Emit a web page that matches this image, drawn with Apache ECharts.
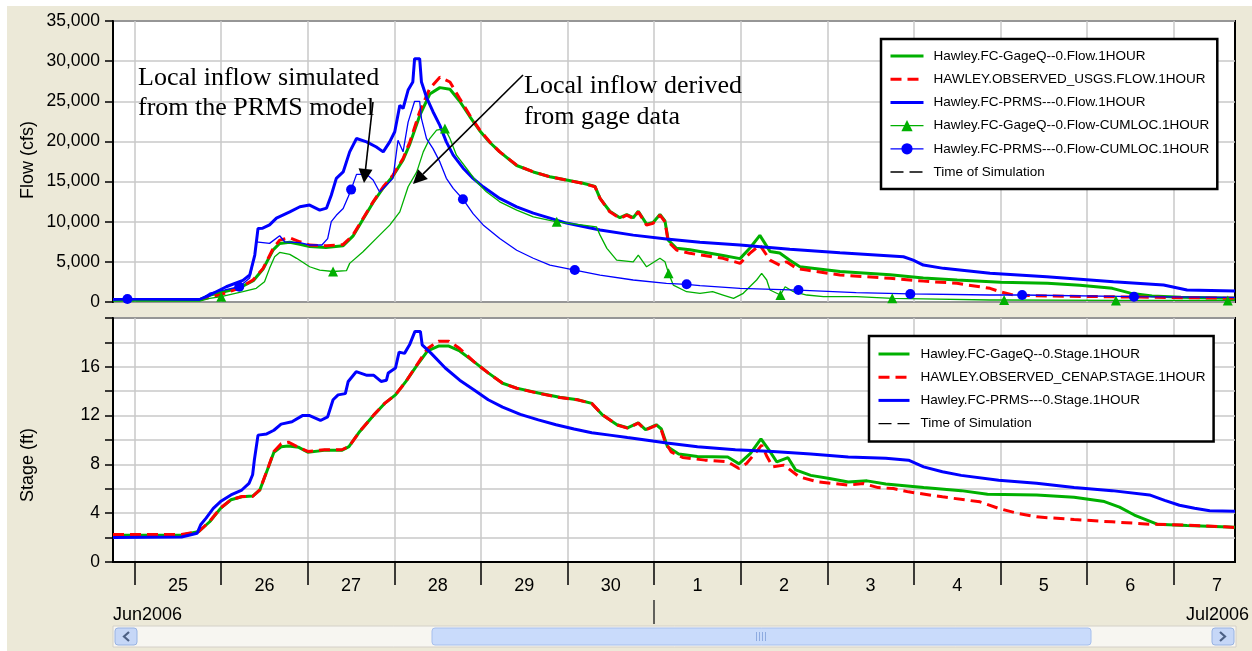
<!DOCTYPE html>
<html>
<head>
<meta charset="utf-8">
<title>Hawley flow and stage, Jun-Jul 2006</title>
<script src="https://cdn.jsdelivr.net/npm/echarts@6/dist/echarts.min.js"></script>
<style>
  html, body { margin: 0; padding: 0; background: #fff; }
  #chart { width: 1252px; height: 651px; }
</style>
</head>
<body>
<div id="chart"></div>
<script>
// Time is measured in hours from 25 Jun 2006 00:00.
const startHour = -6;
const endHour = 305;
const dayStarts = [0, 24, 48, 72, 96, 120, 144, 168, 192, 216, 240, 264, 288];
const dayNoons = [12, 36, 60, 84, 108, 132, 156, 180, 204, 228, 252, 276, 300];
const dayLabels = ['25', '26', '27', '28', '29', '30', '1', '2', '3', '4', '5', '6', '7'];
const monthBreaks = [144];
const monthLabels = ['Jun2006', 'Jul2006'];
const stageTickValues = [0, 4, 8, 12, 16];

// Flow (cfs) at Hawley
const flowGage = [[-6, 300], [18, 300], [21, 870], [29, 1740], [33, 2700], [35.6, 4100], [38.4, 6500], [40.2, 7300], [43, 7450], [45.8, 7200], [48.5, 6900], [53, 6800], [57.8, 7000], [60.5, 8200], [63.3, 10300], [66.1, 12400], [68.9, 14200], [71.6, 15700], [74.4, 17700], [76.3, 19700], [79, 23200], [81.8, 25900], [84.6, 26700], [87.4, 26500], [90.1, 25000], [92.9, 23100], [95.7, 21300], [98.4, 19900], [101.2, 18700], [105.9, 17000], [110.5, 16200], [115.1, 15600], [119.7, 15200], [124.3, 14800], [127.6, 14400], [129, 12900], [131.7, 11300], [134.5, 10500], [136.4, 10900], [138.2, 10500], [139.6, 11300], [141.9, 9700], [143.7, 9900], [145.6, 10900], [147, 10100], [147.9, 7700], [150.2, 6700], [153.9, 6500], [163.1, 5800], [167.8, 5400], [170.5, 6700], [173.3, 8300], [176.1, 6300], [178.8, 6100], [181.6, 5200], [184.4, 4400], [195.5, 3800], [209.4, 3400], [218.6, 3000], [228, 2750], [240, 2450], [253, 2350], [262, 2100], [271, 1700], [276, 1100], [282, 750], [290, 580], [305, 460]];
const flowObserved = [[-6, 300], [18, 300], [23.6, 870], [29.1, 1740], [32.8, 2740], [35.6, 4190], [38.4, 6680], [40.2, 7710], [43, 8000], [45.8, 7500], [48.5, 7090], [53.2, 7000], [57.8, 7170], [60.5, 8330], [63.3, 10400], [66.1, 12480], [68.9, 14350], [71.6, 15800], [74.4, 17870], [76.3, 19950], [79, 23700], [81.8, 26600], [84.6, 28000], [87.4, 27400], [90.1, 25340], [92.9, 23260], [95.7, 21400], [98.4, 19950], [101.2, 18700], [105.9, 17040], [110.5, 16210], [115.1, 15590], [119.7, 15180], [124.3, 14770], [127.6, 14350], [129, 12900], [131.7, 11230], [134.5, 10410], [136.4, 10820], [138.2, 10410], [139.6, 11230], [141.9, 9580], [143.7, 9790], [145.6, 10820], [147, 9990], [147.9, 7500], [150.2, 6470], [153.9, 6060], [163.1, 5440], [167.8, 4810], [170.5, 6060], [173.3, 7090], [176.1, 5220], [178.8, 4600], [180.7, 5010], [183.5, 4190], [186.3, 3980], [195.5, 3360], [209.4, 2950], [218.6, 2600], [227.9, 2330], [237.1, 1700], [239.9, 1280], [243.6, 870], [252.8, 750], [305, 460]];
const flowPrms = [[-6, 300], [18, 300], [20.8, 870], [25.4, 1900], [30, 2700], [31.9, 3360], [33.3, 5850], [34.2, 9170], [35.5, 9200], [37.4, 9600], [39.3, 10450], [43, 11230], [45.8, 11860], [48.5, 12070], [51.3, 11440], [53.2, 11700], [54.5, 13300], [55.9, 15400], [57.8, 16200], [59.6, 18700], [61.5, 20360], [64.3, 19950], [67, 19300], [68.9, 18700], [70.7, 19950], [72.1, 21200], [73.5, 24500], [74.4, 24100], [75.8, 26400], [77.1, 27400], [77.6, 30300], [79, 30300], [79.5, 27400], [80.9, 25500], [82.7, 23700], [84.6, 22000], [86.4, 19950], [88.3, 18300], [91, 16700], [93.8, 15400], [96.6, 14350], [101.2, 12900], [105.9, 11860], [110.5, 11070], [115.1, 10450], [119.7, 9830], [129, 8960], [138.2, 8330], [147.4, 7840], [156.7, 7430], [167.8, 7090], [181.6, 6560], [195.5, 6130], [213.1, 5640], [215.8, 5220], [218.6, 4600], [224.2, 4190], [237.1, 3570], [252.8, 3150], [271.3, 2530], [285.2, 2110], [291.7, 1490], [305, 1370]];
const flowGageLocal = [[-6, 100], [18, 100], [20.8, 460], [24, 660], [30, 1280], [33.7, 1700], [36, 2530], [37.4, 4190], [38.8, 5640], [40.2, 6180], [43, 5930], [44.9, 5440], [48.5, 4390], [51.3, 3980], [55, 3800], [58.7, 3900], [59.6, 4810], [63.3, 6260], [67, 7920], [70.7, 9580], [73.5, 11230], [75.8, 14350], [78.2, 16210], [80, 18700], [81.8, 20360], [83.7, 21400], [86, 21600], [87.4, 20360], [89.2, 18290], [92, 16630], [94.8, 14970], [97.5, 13720], [101.2, 12480], [105.9, 11450], [110.5, 10610], [117, 9990], [124.3, 9580], [128, 9370], [129, 8330], [130.9, 6680], [133.6, 5220], [138.2, 5010], [139.6, 5850], [141.9, 4390], [145.6, 5440], [147, 5010], [148, 3570], [149.3, 2110], [153, 1280], [156.7, 1080], [160.2, 1280], [163.1, 870], [166, 460], [168.7, 1080], [170.5, 1900], [172.4, 2740], [173.8, 3570], [175.2, 2740], [176.1, 1490], [179, 870], [180.3, 1900], [182.6, 1280], [186.3, 870], [190.9, 660], [200.1, 660], [210, 460], [218.6, 400], [237, 250], [241, 250], [272, 200], [303, 200], [305, 200]];
const flowPrmsLocal = [[-6, 250], [-2, 370], [18, 250], [20.8, 1100], [25, 1500], [29, 1900], [31.9, 3000], [33.3, 5850], [33.7, 7500], [37.4, 7300], [40.2, 8250], [41.6, 7500], [45.8, 7400], [48.5, 7100], [51.9, 7100], [53.5, 7900], [54.5, 10000], [55.9, 10800], [57.8, 11650], [59.2, 13100], [60, 14000], [61.5, 15900], [64.3, 15900], [66.1, 15200], [67.9, 13700], [69.8, 14550], [71.6, 15400], [73, 20150], [74.4, 18700], [75.8, 22400], [77.6, 25000], [79, 25000], [79.5, 22850], [80.9, 20350], [82.7, 19100], [84.6, 17450], [86.4, 15400], [88.3, 14150], [91, 12800], [93.8, 11000], [96.6, 9600], [101.2, 7900], [105.9, 6450], [110.5, 5450], [115.1, 4600], [122, 3980], [129, 3360], [138.2, 2740], [147.4, 2330], [153, 2200], [156.7, 2030], [167.8, 1700], [184, 1490], [200, 1160], [215, 1000], [237, 870], [246, 870], [277, 660], [305, 580]];
// Hours at which the local-inflow curves carry a marker
const gageLocalMarks = [24, 55, 86, 117, 148, 179, 210, 241, 272, 303];
const prmsLocalMarks = [-2, 29, 60, 91, 122, 153, 184, 215, 246, 277];

// Stage (ft) at Hawley
const stageGage = [[-6, 2.2], [13, 2.2], [17.8, 2.5], [20.8, 3.3], [23.8, 4.4], [26.7, 5.1], [29.7, 5.35], [32.7, 5.4], [34.7, 5.9], [36.6, 7.4], [38.6, 9.0], [40.6, 9.45], [42.6, 9.5], [45.5, 9.4], [48, 9.0], [52.5, 9.15], [57.4, 9.15], [59.4, 9.45], [62.4, 10.7], [66.3, 12.05], [69.3, 13.0], [72.3, 13.7], [75.2, 14.8], [78.2, 16.1], [81.2, 17.3], [84.2, 17.7], [87.1, 17.7], [90.1, 17.3], [94.1, 16.4], [98, 15.5], [102, 14.65], [105.9, 14.25], [111.9, 13.85], [117.8, 13.5], [122.8, 13.3], [126.7, 13.0], [129.7, 12.05], [133.7, 11.25], [136.6, 11.0], [139.6, 11.4], [141.6, 10.85], [144.6, 11.25], [146, 10.9], [147.7, 9.45], [150.8, 8.85], [156, 8.65], [164.4, 8.6], [167.5, 8.05], [170.7, 8.9], [173.6, 10.1], [175.9, 9.15], [178, 8.2], [181.1, 8.55], [183.2, 7.55], [187.4, 7.1], [192.6, 6.85], [197.8, 6.55], [203, 6.65], [208.2, 6.4], [218.7, 6.1], [229.1, 5.85], [236.4, 5.55], [250, 5.5], [260.4, 5.3], [268.8, 4.95], [273, 4.5], [277.1, 3.85], [283.4, 3.1], [291.7, 3.0], [305, 2.85]];
const stageObserved = [[-6, 2.25], [13, 2.25], [17.8, 2.5], [20.8, 3.33], [23.8, 4.42], [26.7, 5.1], [29.7, 5.37], [32.7, 5.37], [34.7, 5.92], [36.6, 7.42], [38.6, 9.06], [40.6, 9.69], [42.6, 9.82], [45.5, 9.39], [48, 9.06], [52.5, 9.2], [57.4, 9.2], [59.4, 9.47], [62.4, 10.7], [66.3, 12.06], [69.3, 13.0], [72.3, 13.7], [75.2, 14.8], [78.2, 16.15], [81.2, 17.5], [84.2, 18.1], [87.1, 18.1], [90.1, 17.5], [94.1, 16.4], [98, 15.5], [102, 14.65], [105.9, 14.24], [111.9, 13.83], [117.8, 13.48], [122.8, 13.29], [126.7, 13.0], [129.7, 12.06], [133.7, 11.24], [136.6, 10.97], [139.6, 11.38], [141.6, 10.83], [144.6, 11.2], [146, 10.8], [147, 9.9], [148.7, 9.03], [151.9, 8.57], [158.1, 8.35], [164.4, 8.21], [167.5, 7.66], [169.6, 8.07], [172.7, 9.17], [173.8, 9.58], [175.3, 8.62], [176.9, 7.8], [180, 7.94], [184.2, 6.98], [189.4, 6.57], [197.8, 6.3], [202, 6.43], [206.1, 6.1], [210.3, 6.02], [214.5, 5.75], [223.9, 5.34], [234.3, 4.93], [239.5, 4.39], [244.8, 3.98], [250, 3.7], [260.4, 3.48], [270.9, 3.29], [281.3, 3.1], [291.7, 3.02], [302.2, 2.88], [305, 2.83]];
const stagePrms = [[-6, 2.0], [13, 2.05], [17.3, 2.35], [18.3, 3.05], [19.8, 3.6], [21.8, 4.4], [23.8, 4.95], [26.7, 5.5], [29.7, 5.9], [31.7, 6.45], [32.7, 7.15], [33.2, 8.4], [34.2, 10.4], [36.6, 10.5], [38.6, 10.8], [40.6, 11.3], [43.6, 11.5], [46.5, 12.0], [48.5, 12.0], [51.5, 11.6], [53.5, 11.9], [55, 13.3], [56.4, 13.7], [58.4, 13.8], [59.2, 14.8], [61.4, 15.6], [64.4, 15.3], [66.3, 15.3], [68.3, 14.8], [69.8, 14.9], [70.3, 15.5], [72.3, 15.9], [73.3, 17.2], [74.8, 17.1], [76.2, 17.8], [77.7, 18.9], [79.2, 18.9], [79.7, 17.8], [82.2, 17.1], [86.1, 15.9], [90.1, 14.9], [94.1, 14.1], [98, 13.3], [102, 12.7], [106.9, 12.1], [111.9, 11.65], [116.8, 11.25], [121.8, 10.9], [126.7, 10.6], [131.7, 10.4], [136.6, 10.2], [141.6, 10.0], [147.5, 9.75], [156, 9.45], [166.5, 9.2], [176.9, 9.05], [187.4, 8.85], [197.8, 8.6], [208.2, 8.5], [214.5, 8.35], [218.7, 7.8], [223.9, 7.4], [229.1, 7.1], [239.5, 6.7], [250, 6.45], [260.4, 6.1], [270.9, 5.85], [281.3, 5.5], [285.5, 5.05], [289.6, 4.65], [293.8, 4.4], [298, 4.2], [305, 4.17]];
const timeOfSimulation = [];

const GREEN = '#00b000', RED = '#ff0000', BLUE = '#0000ff', BLACK = '#000000';
const GRID_LINE = { color: '#c8c8c8', width: 1.5 };
const SANS = 'Liberation Sans, Arial, sans-serif';
const SERIF = 'Liberation Serif, Times New Roman, serif';
const THICK = 3, THIN = 1.3;

const NAMES = {
  flowGage: 'Hawley.FC-GageQ--0.Flow.1HOUR',
  flowObs: 'HAWLEY.OBSERVED_USGS.FLOW.1HOUR',
  flowPrms: 'Hawley.FC-PRMS---0.Flow.1HOUR',
  flowGageLoc: 'Hawley.FC-GageQ--0.Flow-CUMLOC.1HOUR',
  flowPrmsLoc: 'Hawley.FC-PRMS---0.Flow-CUMLOC.1HOUR',
  sim: 'Time of Simulation',
  stageGage: 'Hawley.FC-GageQ--0.Stage.1HOUR',
  stageObs: 'HAWLEY.OBSERVED_CENAP.STAGE.1HOUR',
  stagePrms: 'Hawley.FC-PRMS---0.Stage.1HOUR'
};

function thickLine(name, data, color, panel, dash) {
  return {
    type: 'line', name, data,
    xAxisIndex: panel, yAxisIndex: panel,
    symbol: 'none', silent: true,
    lineStyle: { color, width: THICK, type: dash || 'solid' },
    itemStyle: { color }
  };
}

function localLine(name, data, color, symbol, marks) {
  return {
    type: 'line', name, data,
    xAxisIndex: 0, yAxisIndex: 0,
    symbol, showSymbol: true, showAllSymbol: true,
    symbolSize: v => (marks.includes(v[0]) ? 10 : 0),
    silent: true,
    lineStyle: { color, width: THIN },
    itemStyle: { color }
  };
}

function simLine(panel) {
  return {
    type: 'line', name: NAMES.sim, data: timeOfSimulation,
    xAxisIndex: panel, yAxisIndex: panel, symbol: 'none', silent: true,
    lineStyle: { color: BLACK, width: THIN, type: [13, 6] },
    itemStyle: { color: BLACK }
  };
}

// Legend entry: plain curves hide the symbol, marker curves keep it
function legendItem(name, width, hasMarker) {
  const item = { name, lineStyle: { width } };
  if (!hasMarker) item.itemStyle = { opacity: 0 };
  return item;
}

const legendBase = {
  orient: 'vertical', selectedMode: false,
  itemHeight: 14, itemGap: 9.2,
  backgroundColor: '#fff', borderColor: BLACK, borderWidth: 2.5, borderRadius: 0,
  textStyle: { fontSize: 13.5, fontFamily: SANS, color: BLACK, padding: [0, 0, 0, 5] }
};

const xBase = {
  type: 'value', min: startHour, max: endHour,
  splitLine: { show: true, lineStyle: GRID_LINE }
};

const yAxisLine = { show: true, onZero: false, lineStyle: { color: BLACK, width: 2 } };

const option = {
  backgroundColor: '#ece9d8',
  animation: false,
  grid: [
    { left: 113, right: 17, top: 21, height: 281, show: true, backgroundColor: '#fff', borderColor: BLACK, borderWidth: 2 },
    { left: 113, right: 17, top: 318, height: 244, show: true, backgroundColor: '#fff', borderColor: BLACK, borderWidth: 2 }
  ],
  xAxis: [
    Object.assign({}, xBase, {
      gridIndex: 0,
      axisLine: { show: false, onZero: false },
      axisTick: { show: false, customValues: dayStarts },
      axisLabel: { show: false }
    }),
    Object.assign({}, xBase, {
      gridIndex: 1, position: 'bottom',
      axisLine: { show: true, onZero: false, lineStyle: { color: BLACK, width: 2 } },
      axisTick: { show: true, customValues: dayStarts, length: 23, lineStyle: { color: BLACK, width: 1.5 } },
      axisLabel: {
        customValues: dayNoons, margin: 15, fontSize: 18, fontFamily: SANS, color: BLACK,
        formatter: v => dayLabels[dayNoons.indexOf(v)]
      }
    }),
    {
      type: 'value', gridIndex: 1, position: 'bottom', offset: 38,
      min: startHour, max: endHour,
      axisLine: { show: false, onZero: false },
      axisTick: { show: true, customValues: monthBreaks, length: 24, lineStyle: { color: '#333', width: 1.5 } },
      axisLabel: { show: false },
      splitLine: { show: false }
    }
  ],
  yAxis: [
    {
      type: 'value', gridIndex: 0, min: 0, max: 35000, interval: 5000,
      axisLine: yAxisLine,
      axisTick: { show: true, length: 8, lineStyle: { color: BLACK, width: 1.5 } },
      axisLabel: {
        margin: 13, fontSize: 17.5, fontFamily: SANS, color: BLACK,
        formatter: v => String(v).replace(/\B(?=(\d{3})+(?!\d))/g, ',')
      },
      splitLine: { show: true, lineStyle: GRID_LINE }
    },
    {
      type: 'value', gridIndex: 1, min: 0, max: 20, interval: 2,
      axisLine: yAxisLine,
      axisTick: { show: true, length: 8, lineStyle: { color: BLACK, width: 1.5 } },
      axisLabel: { customValues: stageTickValues, margin: 13, fontSize: 17.5, fontFamily: SANS, color: BLACK },
      splitLine: { show: true, lineStyle: GRID_LINE }
    }
  ],
  legend: [
    Object.assign({}, legendBase, {
      left: 881, top: 39, itemWidth: 33, padding: [10, 8, 10, 8],
      data: [
        legendItem(NAMES.flowGage, THICK), legendItem(NAMES.flowObs, THICK), legendItem(NAMES.flowPrms, THICK),
        legendItem(NAMES.flowGageLoc, THIN, true), legendItem(NAMES.flowPrmsLoc, THIN, true), legendItem(NAMES.sim, THIN)
      ]
    }),
    Object.assign({}, legendBase, {
      left: 869, top: 336, itemWidth: 31, padding: [11, 8, 11, 8],
      textStyle: Object.assign({}, legendBase.textStyle, { padding: [0, 0, 0, 6] }),
      data: [
        legendItem(NAMES.stageGage, THICK), legendItem(NAMES.stageObs, THICK), legendItem(NAMES.stagePrms, THICK), legendItem(NAMES.sim, THIN)
      ]
    })
  ],
  series: [
    thickLine(NAMES.flowGage, flowGage, GREEN, 0),
    thickLine(NAMES.flowObs, flowObserved, RED, 0, [11, 6]),
    thickLine(NAMES.flowPrms, flowPrms, BLUE, 0),
    localLine(NAMES.flowGageLoc, flowGageLocal, GREEN, 'triangle', gageLocalMarks),
    localLine(NAMES.flowPrmsLoc, flowPrmsLocal, BLUE, 'circle', prmsLocalMarks),
    simLine(0),
    thickLine(NAMES.stageGage, stageGage, GREEN, 1),
    thickLine(NAMES.stageObs, stageObserved, RED, 1, [11, 6]),
    thickLine(NAMES.stagePrms, stagePrms, BLUE, 1),
    simLine(1)
  ]
};

const chart = echarts.init(document.getElementById('chart'), null, { renderer: 'canvas' });
chart.setOption(option);

// Arrow made of a shaft and a filled head ending at (x2, y2)
function arrow(x1, y1, x2, y2) {
  const dx = x2 - x1, dy = y2 - y1, len = Math.hypot(dx, dy);
  const ux = dx / len, uy = dy / len, head = 14, half = 7;
  const bx = x2 - ux * head, by = y2 - uy * head;
  return [
    { type: 'line', silent: true, z: 50, shape: { x1, y1, x2: bx, y2: by }, style: { stroke: BLACK, lineWidth: 1.6 } },
    { type: 'polygon', silent: true, z: 50, shape: { points: [[x2, y2], [bx - uy * half, by + ux * half], [bx + uy * half, by - ux * half]] }, style: { fill: BLACK } }
  ];
}

function label(text, x, y, opts) {
  return { type: 'text', silent: true, z: 50, x, y, style: Object.assign({ text, fill: BLACK }, opts) };
}

const noteStyle = { fontFamily: SERIF, fontSize: 26, verticalAlign: 'alphabetic', align: 'left' };
const axisNameStyle = { fontFamily: SANS, fontSize: 18, align: 'center', verticalAlign: 'middle', fill: '#000' };

chart.setOption({
  graphic: [
    // white page margin around the panel
    { type: 'rect', silent: true, z: 0, shape: { x: 0, y: 0, width: 1252, height: 6 }, style: { fill: '#fff' } },
    { type: 'rect', silent: true, z: 0, shape: { x: 0, y: 0, width: 7, height: 651 }, style: { fill: '#fff' } },
    // axis names
    { type: 'text', silent: true, x: 28, y: 160, rotation: Math.PI / 2, style: Object.assign({ text: 'Flow (cfs)' }, axisNameStyle) },
    { type: 'text', silent: true, x: 28, y: 465, rotation: Math.PI / 2, style: Object.assign({ text: 'Stage (ft)' }, axisNameStyle) },
    // month captions under the day labels
    { type: 'text', silent: true, x: 113, y: 615, style: { text: monthLabels[0], fontFamily: SANS, fontSize: 18, fill: BLACK, align: 'left', verticalAlign: 'middle' } },
    { type: 'text', silent: true, x: 1249, y: 615, style: { text: monthLabels[1], fontFamily: SANS, fontSize: 18, fill: BLACK, align: 'right', verticalAlign: 'middle' } },
    // horizontal scroll bar
    { type: 'rect', silent: true, shape: { x: 113, y: 626, width: 1123, height: 21 }, style: { fill: '#f7f6f1', stroke: '#d4d0c8', lineWidth: 1 } },
    { type: 'rect', silent: true, shape: { x: 115, y: 628, width: 22, height: 17, r: 3 }, style: { fill: '#c6d7f7', stroke: '#97b2e2', lineWidth: 1 } },
    { type: 'polyline', silent: true, shape: { points: [[129, 632], [124, 636.5], [129, 641]] }, style: { stroke: '#4d6185', lineWidth: 2.2, fill: null } },
    { type: 'rect', silent: true, shape: { x: 1212, y: 628, width: 22, height: 17, r: 3 }, style: { fill: '#c6d7f7', stroke: '#97b2e2', lineWidth: 1 } },
    { type: 'polyline', silent: true, shape: { points: [[1220, 632], [1225, 636.5], [1220, 641]] }, style: { stroke: '#4d6185', lineWidth: 2.2, fill: null } },
    { type: 'rect', silent: true, shape: { x: 432, y: 628, width: 659, height: 17, r: 3 }, style: { fill: '#c9dbfb', stroke: '#a6bfed', lineWidth: 1 } },
    { type: 'rect', silent: true, shape: { x: 756, y: 632, width: 1, height: 9 }, style: { fill: '#8eabe0' } },
    { type: 'rect', silent: true, shape: { x: 759, y: 632, width: 1, height: 9 }, style: { fill: '#8eabe0' } },
    { type: 'rect', silent: true, shape: { x: 762, y: 632, width: 1, height: 9 }, style: { fill: '#8eabe0' } },
    { type: 'rect', silent: true, shape: { x: 765, y: 632, width: 1, height: 9 }, style: { fill: '#8eabe0' } },
    // callouts
    label('Local inflow simulated', 138, 65, noteStyle),
    label('from the PRMS model', 138, 95, noteStyle),
    label('Local inflow derived', 524, 73, noteStyle),
    label('from gage data', 524, 104, noteStyle)
  ].concat(arrow(373, 102, 364, 183), arrow(523, 75, 413, 184))
});
</script>
</body>
</html>
